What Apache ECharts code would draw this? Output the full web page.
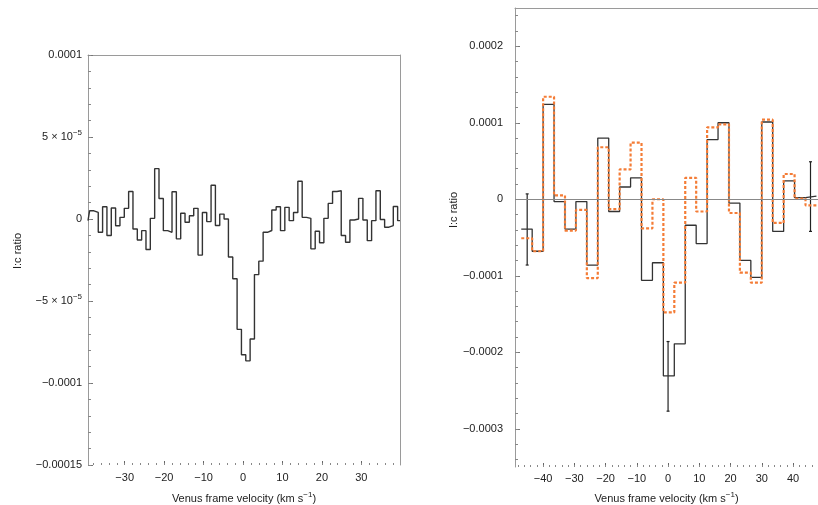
<!DOCTYPE html>
<html><head><meta charset="utf-8">
<script src="https://cdn.jsdelivr.net/npm/echarts@6/dist/echarts.min.js"></script>
<style>html,body{margin:0;padding:0;background:#fff}#c{width:818px;height:505px}</style>
</head><body><div id="c"></div>
<script>
// ---------- Left panel data (I:c ratio, units of 1e-5) ----------
const leftRange = [-39.3, 39.8];          // visible velocity range (km/s)
const leftFirstEdge = -38.9;              // first full bin edge (km/s)
const leftBinWidth = 1.1;                 // channel width (km/s)
const leftUnit = 1e-5;
const leftValues = [
  -0.1, 0.5, 0.4, -0.81, 0.75, -1.01, 0.67, -0.41, 0.1, 0.65,
  1.68, -0.61, -1.28, -0.71, -1.86, 0.04, 3.07, 1.25, -0.71, -0.81,
  1.66, -1.21, 0.35, -0.2, 0.2, 0.65, -2.2, 0.4, -0.16, 2.06,
  -0.4, 0.3, 0.0, -2.32, -3.64, -6.73, -8.28, -8.65, -7.32, -3.39,
  -2.57, -0.81, -0.7, 0.55, 0.75, -0.71, 0.71, -0.1, 0.4, 2.3,
  0.1, 0.04, -1.82, -0.75, -1.45, 0.04, 0.95, 1.68, 1.72, -1.01,
  -1.42, -0.06, 0.0, 1.26, -0.06, -1.32, -0.1, 1.72, -0.03, -0.5,
  -0.4, 0.76, -0.1
];
const leftXTicks = [-30, -20, -10, 0, 10, 20, 30];
const leftYTicks = [-15e-5, -10e-5, -5e-5, 0, 5e-5, 10e-5];
const leftYLabels = ['−0.00015', '−0.0001', '{n|−5 × 10}{s|−5}', '0', '{n|5 × 10}{s|−5}', '0.0001'];

// ---------- Right panel data (I:c ratio, units of 1e-4) ----------
const rightRange = [-49, 48];
const rightFirstEdge = -47;
const rightBinWidth = 3.5;
const rightUnit = 1e-4;
const rightBlack = [
  -0.39, -0.68, 1.24, -0.03, -0.39, -0.03, -0.86, 0.80, -0.16, 0.16,
  0.28, -1.06, -0.83, -2.31, -1.89, -0.34, -0.58, 0.78, 1.00, -0.05,
  -0.80, -1.02, 1.01, -0.42, 0.24, 0.02, 0.04
];
const rightOrange = [
  -0.51, -0.68, 1.34, 0.05, -0.41, -0.14, -1.03, 0.68, -0.13, 0.39,
  0.74, -0.38, 0.00, -1.48, -1.09, 0.28, -0.16, 0.94, 0.98, -0.18,
  -0.96, -1.09, 1.04, -0.31, 0.33, 0.01, -0.08
];
const errX = [-45.1, 0, 45.6];
const errLow = [-0.86, -2.77, -0.42];
const errHigh = [0.07, -1.86, 0.49];
const rightXTicks = [-40, -30, -20, -10, 0, 10, 20, 30, 40];
const rightYTicks = [-3e-4, -2e-4, -1e-4, 0, 1e-4, 2e-4];
const rightYLabels = ['−0.0003', '−0.0002', '−0.0001', '0', '0.0001', '0.0002'];

// ---------- helpers ----------
function stepPoints(edges, vals, unit) {
  const pts = [];
  for (let i = 0; i < vals.length; i++) {
    pts.push([edges[i], vals[i] * unit], [edges[i + 1], vals[i] * unit]);
  }
  return pts;
}
function evenlySpaced(a, b, step) {
  const out = [];
  for (let v = a; v <= b + step * 1e-6; v += step) out.push(+v.toFixed(10));
  return out;
}
function labelFrom(ticks, labels) {
  return function (v) {
    let best = 0;
    for (let i = 1; i < ticks.length; i++) if (Math.abs(ticks[i] - v) < Math.abs(ticks[best] - v)) best = i;
    return labels[best];
  };
}
const minusFmt = v => (v < 0 ? '−' + Math.abs(v) : String(v));

const leftEdges = [leftRange[0]];
for (let k = 0; k < leftValues.length - 1; k++) leftEdges.push(+(leftFirstEdge + k * leftBinWidth).toFixed(4));
leftEdges.push(leftRange[1]);

const rightEdges = [];
for (let k = 0; k <= rightBlack.length; k++) rightEdges.push(rightFirstEdge + k * rightBinWidth);

const FONT = 'Liberation Sans, Arial, Helvetica, sans-serif';
const TXT = '#222';
const FRAME = '#9a9a9a';
const rich = {
  n: { fontSize: 11, fontFamily: FONT, color: TXT, lineHeight: 16 },
  s: { fontSize: 8, fontFamily: FONT, color: TXT, lineHeight: 9, verticalAlign: 'top' }
};

function hidden() { return { axisLine: { show: false, onZero: false }, axisTick: { show: false }, axisLabel: { show: false }, splitLine: { show: false } }; }
function frameLine() { return { show: true, onZero: false, lineStyle: { color: FRAME, width: 1 } }; }

const chart = echarts.init(document.getElementById('c'), null, { renderer: 'canvas' });
chart.setOption({
  animation: false,
  backgroundColor: '#fff',
  grid: [
    { left: 88, top: 55, width: 312, height: 410, containLabel: false, outerBoundsMode: 'none' },
    { left: 515, top: 8, right: 0, bottom: 38, containLabel: false, outerBoundsMode: 'none' }
  ],
  xAxis: [
    { type: 'value', gridIndex: 0, min: leftRange[0], max: leftRange[1], position: 'bottom',
      axisLine: { show: false, onZero: false }, splitLine: { show: false },
      axisTick: { show: true, inside: true, length: 4, customValues: leftXTicks, lineStyle: { color: '#666' } },
      axisLabel: { customValues: leftXTicks, formatter: minusFmt, fontSize: 11, fontFamily: FONT, color: TXT, margin: 7 },
      name: 'Venus frame velocity (km s{s|−1}{n|)}', nameLocation: 'middle', nameGap: 26,
      nameTextStyle: { fontSize: 11, fontFamily: FONT, color: TXT, rich: rich } },
    Object.assign(hidden(), { type: 'value', gridIndex: 0, min: leftRange[0], max: leftRange[1], position: 'bottom',
      axisTick: { show: true, inside: true, length: 2, customValues: evenlySpaced(-38, 38, 2), lineStyle: { color: '#888' } } }),
    Object.assign(hidden(), { type: 'value', gridIndex: 0, min: leftRange[0], max: leftRange[1], position: 'top',
      axisLine: frameLine() }),
    { type: 'value', gridIndex: 1, min: rightRange[0], max: rightRange[1], position: 'bottom',
      axisLine: { show: false, onZero: false }, splitLine: { show: false },
      axisTick: { show: true, inside: true, length: 4, customValues: rightXTicks, lineStyle: { color: '#666' } },
      axisLabel: { customValues: rightXTicks, formatter: minusFmt, fontSize: 11, fontFamily: FONT, color: TXT, margin: 6 },
      name: 'Venus frame velocity (km s{s|−1}{n|)}', nameLocation: 'middle', nameGap: 24,
      nameTextStyle: { fontSize: 11, fontFamily: FONT, color: TXT, rich: rich } },
    Object.assign(hidden(), { type: 'value', gridIndex: 1, min: rightRange[0], max: rightRange[1], position: 'bottom',
      axisTick: { show: true, inside: true, length: 2, customValues: evenlySpaced(-48, 48, 2), lineStyle: { color: '#888' } } }),
    Object.assign(hidden(), { type: 'value', gridIndex: 1, min: rightRange[0], max: rightRange[1], position: 'top',
      axisLine: frameLine() })
  ],
  yAxis: [
    { type: 'value', gridIndex: 0, min: -15e-5, max: 10e-5, position: 'left',
      axisLine: frameLine(), splitLine: { show: false },
      axisTick: { show: true, inside: true, length: 5, customValues: leftYTicks, lineStyle: { color: '#777' } },
      axisLabel: { customValues: leftYTicks, formatter: labelFrom(leftYTicks, leftYLabels), fontSize: 11, fontFamily: FONT, color: TXT, margin: 6, rich: rich },
      name: 'I:c ratio', nameLocation: 'middle', nameGap: 65, nameRotate: 90,
      nameTextStyle: { fontSize: 11, fontFamily: FONT, color: TXT, padding: [0, 0, 0, 18] } },
    Object.assign(hidden(), { type: 'value', gridIndex: 0, min: -15e-5, max: 10e-5, position: 'left',
      axisTick: { show: true, inside: true, length: 3, customValues: evenlySpaced(-15e-5, 10e-5, 1e-5), lineStyle: { color: '#888' } } }),
    Object.assign(hidden(), { type: 'value', gridIndex: 0, min: -15e-5, max: 10e-5, position: 'right',
      axisLine: frameLine() }),
    { type: 'value', gridIndex: 1, min: -3.5e-4, max: 2.5e-4, position: 'left',
      axisLine: frameLine(), splitLine: { show: false },
      axisTick: { show: true, inside: true, length: 5, customValues: rightYTicks, lineStyle: { color: '#777' } },
      axisLabel: { customValues: rightYTicks, formatter: labelFrom(rightYTicks, rightYLabels), fontSize: 11, fontFamily: FONT, color: TXT, margin: 12 },
      name: 'I:c ratio', nameLocation: 'middle', nameGap: 49, nameRotate: 90,
      nameTextStyle: { fontSize: 11, fontFamily: FONT, color: TXT, padding: [0, 0, 0, 55] } },
    Object.assign(hidden(), { type: 'value', gridIndex: 1, min: -3.5e-4, max: 2.5e-4, position: 'left',
      axisTick: { show: true, inside: true, length: 3, customValues: evenlySpaced(-3.4e-4, 2.4e-4, 2e-5), lineStyle: { color: '#888' } } })
  ],
  series: [
    { type: 'line', xAxisIndex: 0, yAxisIndex: 0, data: stepPoints(leftEdges, leftValues, leftUnit),
      symbol: 'none', lineStyle: { color: '#333', width: 1.4 }, silent: true },
    { type: 'line', xAxisIndex: 3, yAxisIndex: 3, data: stepPoints(rightEdges, rightBlack, rightUnit),
      symbol: 'none', lineStyle: { color: '#333', width: 1.3 }, silent: true,
      markLine: { silent: true, symbol: 'none', label: { show: false },
        lineStyle: { color: '#888', width: 1, type: 'solid' }, data: [{ yAxis: 0 }] } },
    { type: 'line', xAxisIndex: 3, yAxisIndex: 3, data: stepPoints(rightEdges, rightOrange, rightUnit),
      symbol: 'none', lineStyle: { color: '#F47C36', width: 2.2, type: [3, 2] }, silent: true },
    { type: 'custom', xAxisIndex: 3, yAxisIndex: 3,
      data: errX.map((x, i) => [x, errLow[i] * rightUnit, errHigh[i] * rightUnit]),
      encode: { x: 0, y: [1, 2] },
      renderItem: function (params, api) {
        const x = api.value(0);
        const p1 = api.coord([x, api.value(1)]);
        const p2 = api.coord([x, api.value(2)]);
        const st = { stroke: '#222', lineWidth: 1.2 };
        return { type: 'group', children: [
          { type: 'line', shape: { x1: p1[0], y1: p1[1], x2: p2[0], y2: p2[1] }, style: st },
          { type: 'line', shape: { x1: p1[0] - 1.5, y1: p1[1], x2: p1[0] + 1.5, y2: p1[1] }, style: st },
          { type: 'line', shape: { x1: p2[0] - 1.5, y1: p2[1], x2: p2[0] + 1.5, y2: p2[1] }, style: st }
        ] };
      } }
  ]
});
</script></body></html>
